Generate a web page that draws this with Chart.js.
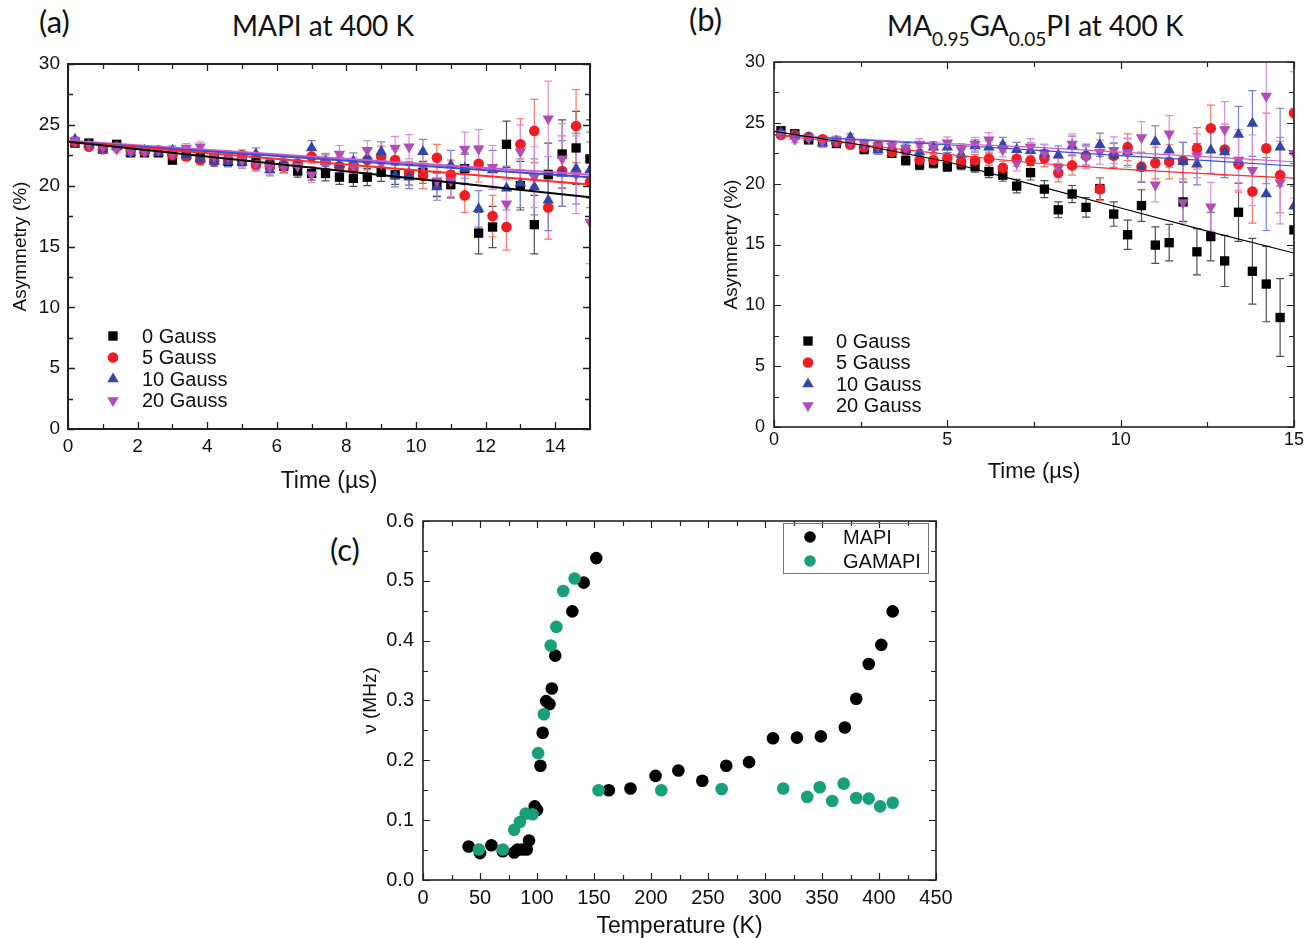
<!DOCTYPE html>
<html><head><meta charset="utf-8">
<script src="https://cdn.jsdelivr.net/npm/chart.js"></script>
<style>
html,body{margin:0;padding:0;background:#fff;width:1306px;height:938px;overflow:hidden;position:relative}
canvas{position:absolute}
.lbl{position:absolute;font-family:Lato,'Open Sans',sans-serif;color:#111;white-space:nowrap;line-height:1}
.sub{font-size:19px;position:relative;top:10px}
</style></head><body>
<div class="lbl" style="left:39px;top:6px;font-size:31px">(a)</div>
<div class="lbl" style="left:323px;top:11px;font-size:28px;transform:translateX(-50%)">MAPI at 400 K</div>
<div class="lbl" style="left:689px;top:4px;font-size:31px">(b)</div>
<div class="lbl" style="left:887px;top:11px;font-size:28px">MA<span class="sub">0.95</span>GA<span class="sub">0.05</span>PI at 400 K</div>
<div class="lbl" style="left:330px;top:534px;font-size:31px">(c)</div>
<canvas id="ca" width="650" height="500" style="left:0;top:0"></canvas>
<canvas id="cb" width="656" height="500" style="left:650px;top:0"></canvas>
<canvas id="cc" width="680" height="438" style="left:300px;top:500px"></canvas>
<script>
// ---------------- DATA ----------------
const TIME = [0.2,0.6,1.0,1.4,1.8,2.2,2.6,3.0,3.4,3.8,4.2,4.6,5.0,5.4,5.8,6.2,6.6,7.0,7.4,7.8,8.2,8.6,9.0,9.4,9.8,10.2,10.6,11.0,11.4,11.8,12.2,12.6,13.0,13.4,13.8,14.2,14.6,15.0];
const GAUSS_LABELS = ['0 Gauss','5 Gauss','10 Gauss','20 Gauss'];

// panel (a) MAPI at 400 K, asymmetry (%)
const A_0G  = [23.5,23.5,23.0,23.4,22.7,22.7,22.7,22.1,22.5,22.3,22.2,22.0,22.0,21.9,21.7,21.6,21.2,21.0,21.0,20.7,20.6,20.7,21.1,20.9,20.9,21.1,20.1,20.1,21.4,16.1,16.6,23.4,20.0,16.8,20.9,22.6,23.1,22.2];
const A_5G  = [23.6,23.2,23.0,23.2,22.9,22.8,22.9,22.5,22.4,22.1,22.0,22.1,22.5,21.7,21.6,21.6,21.8,22.4,22.0,21.6,21.4,22.1,22.4,22.1,21.0,20.8,22.3,20.9,19.2,21.8,17.5,16.6,23.4,24.5,18.2,21.2,24.9,20.3];
const A_10G = [23.8,23.4,23.0,23.2,22.7,22.9,22.7,22.9,22.5,22.2,22.0,22.0,21.9,22.6,21.3,21.8,21.7,23.1,22.0,21.7,22.0,22.3,22.8,20.8,20.7,22.8,19.9,21.7,21.4,18.1,21.3,19.8,20.2,19.9,18.8,21.0,21.4,21.3];
const A_20G = [23.7,23.4,23.2,23.0,22.8,22.8,22.9,22.6,23.1,23.2,22.4,22.4,22.1,21.8,21.5,21.6,21.6,20.9,21.8,22.6,21.6,22.9,21.8,23.1,23.2,21.6,20.4,20.4,23.0,23.0,21.5,18.5,22.8,20.7,25.5,22.2,20.9,17.0];
const A_ERR_0G  = [0.2,0.2,0.2,0.25,0.25,0.25,0.3,0.3,0.3,0.35,0.35,0.4,0.4,0.45,0.45,0.5,0.5,0.55,0.6,0.6,0.65,0.7,0.75,0.8,0.85,0.9,1.0,1.1,1.2,1.7,1.7,1.9,2.0,2.4,2.6,2.8,3.0,3.2];
const A_ERR_5G  = [0.2,0.2,0.25,0.25,0.3,0.3,0.3,0.35,0.35,0.4,0.4,0.45,0.45,0.5,0.5,0.55,0.6,0.6,0.65,0.7,0.75,0.8,0.85,0.9,1.0,1.05,1.1,1.2,1.4,1.5,1.7,1.9,2.1,2.6,2.6,2.9,3.0,3.3];
const A_ERR_10G = [0.2,0.2,0.25,0.25,0.3,0.3,0.3,0.35,0.35,0.4,0.4,0.45,0.45,0.5,0.5,0.55,0.6,0.6,0.6,0.65,0.7,0.75,0.8,0.9,0.95,1.0,1.1,1.2,1.3,1.5,1.6,1.8,2.0,2.3,2.5,2.7,2.9,3.1];
const A_ERR_20G = [0.2,0.2,0.25,0.25,0.3,0.3,0.3,0.35,0.35,0.4,0.45,0.45,0.5,0.5,0.55,0.6,0.6,0.65,0.7,0.7,0.75,0.8,0.85,0.95,1.0,1.1,1.2,1.3,1.4,1.6,1.8,2.0,2.2,2.5,3.1,2.9,3.2,3.4];
const A_FIT_T   = [0, 15];
const A_FIT_0G  = [23.6, 19.05];
const A_FIT_5G  = [23.6, 20.1];
const A_FIT_10G = [23.6, 20.7];
const A_FIT_20G = [23.7, 20.9];

// panel (b) MA0.95GA0.05PI at 400 K
const B_0G  = [24.35,24.1,23.6,23.5,23.3,23.4,22.8,23.0,22.5,21.9,21.55,21.7,21.4,21.6,21.4,21.0,20.7,19.8,20.9,19.55,17.85,19.15,18.05,19.6,17.5,15.8,18.2,14.95,15.15,18.5,14.4,15.65,13.65,17.65,12.8,11.75,9.0,16.2];
const B_5G  = [24.0,24.0,23.85,23.65,23.4,23.2,23.0,23.1,22.6,22.7,21.95,21.95,22.1,21.8,21.9,22.05,21.3,22.05,21.9,22.1,20.9,21.5,22.3,19.55,22.3,23.0,21.4,21.7,21.8,21.9,22.9,24.55,22.8,21.6,19.35,22.9,20.7,25.8];
const B_10G = [24.2,23.9,23.75,23.3,23.5,23.8,23.2,22.75,23.0,22.8,22.6,23.0,23.0,22.4,23.1,23.0,23.2,22.8,22.7,22.5,22.35,23.1,22.4,23.2,22.35,22.6,21.3,23.45,22.75,21.8,21.6,22.75,22.6,24.05,24.95,19.15,23.0,18.15];
const B_20G = [24.1,23.65,23.75,23.5,23.6,23.4,23.3,23.1,23.1,22.9,23.25,22.95,23.35,22.8,23.25,23.6,22.8,21.7,23.0,22.5,21.3,23.25,22.15,22.6,22.75,22.55,23.8,19.9,24.1,18.45,22.3,18.1,24.45,21.95,21.1,27.2,20.1,22.5];
const B_ERR_0G  = [0.25,0.25,0.25,0.3,0.3,0.3,0.3,0.35,0.35,0.35,0.4,0.4,0.4,0.45,0.45,0.5,0.5,0.55,0.6,0.7,0.65,0.7,0.8,0.9,1.0,1.2,1.3,1.5,1.5,1.6,1.9,2.0,2.1,2.4,2.7,3.1,3.2,3.6];
const B_ERR_5G  = [0.25,0.25,0.25,0.3,0.3,0.3,0.35,0.35,0.35,0.4,0.4,0.45,0.45,0.5,0.5,0.55,0.55,0.6,0.65,0.7,0.75,0.8,0.85,0.95,1.0,1.1,1.2,1.3,1.4,1.5,1.7,1.9,2.1,2.3,2.6,2.9,3.1,3.4];
const B_ERR_10G = [0.25,0.25,0.25,0.3,0.3,0.3,0.35,0.35,0.35,0.4,0.4,0.45,0.45,0.5,0.5,0.55,0.6,0.6,0.65,0.7,0.75,0.8,0.85,0.95,1.0,1.1,1.2,1.3,1.4,1.6,1.7,1.9,2.1,2.3,2.7,3.0,3.2,3.5];
const B_ERR_20G = [0.25,0.25,0.3,0.3,0.3,0.35,0.35,0.35,0.4,0.4,0.45,0.45,0.5,0.5,0.55,0.6,0.6,0.65,0.7,0.75,0.8,0.85,0.9,1.0,1.1,1.2,1.3,1.4,1.5,1.7,1.8,2.0,2.3,2.5,2.9,4.0,3.4,3.7];
const B_FIT_T   = [0, 2.5, 5, 7.5, 10, 12.5, 15];
const B_FIT_0G  = [24.3, 23.2, 21.8, 19.9, 18.0, 16.1, 14.3];
const B_FIT_5G  = [24.0, 23.2, 22.4, 21.7, 21.2, 20.8, 20.45];
const B_FIT_10G = [24.0, 23.6, 23.2, 22.75, 22.3, 21.9, 21.45];
const B_FIT_20G = [24.0, 23.65, 23.3, 23.0, 22.6, 22.2, 21.8];

// panel (c) precession frequency vs temperature
const C_LABELS = ['MAPI', 'GAMAPI'];
const C_MAPI_T  = [40,50,60,70,80,83,87,91,93,98,100,103,105,108,111,113,116,131,141,152,163,182,204,224,245,266,286,307,328,349,370,380,391,402,412];
const C_MAPI_NU = [0.056,0.045,0.058,0.048,0.046,0.051,0.051,0.051,0.066,0.123,0.117,0.191,0.246,0.299,0.294,0.320,0.375,0.449,0.497,0.538,0.150,0.153,0.174,0.183,0.166,0.191,0.197,0.237,0.238,0.240,0.255,0.303,0.361,0.393,0.449];
const C_GA_T  = [49,70,80,85,90,96,101,106,112,117,123,133,154,209,262,316,337,348,359,369,380,391,401,412];
const C_GA_NU = [0.051,0.051,0.084,0.097,0.111,0.110,0.212,0.277,0.392,0.423,0.483,0.504,0.150,0.150,0.152,0.153,0.139,0.155,0.132,0.161,0.137,0.136,0.123,0.129];

// ---------------- STYLE ----------------
const FONT = "'Liberation Sans', Arial, sans-serif";
const STYLES = [
  {shape:'rect',     rot:0,   r:6.6, color:'#000000', err:'#505050', fit:'#000000'},
  {shape:'circle',   rot:0,   r:5.3, color:'#ee1d23', err:'#f47a66', fit:'#ff2a2a'},
  {shape:'triangle', rot:0,   r:6.6, color:'#3346a6', err:'#7885d4', fit:'#3a4fd0'},
  {shape:'triangle', rot:180, r:6.6, color:'#b24db4', err:'#dc8edc', fit:'#cc5acc'}
];

function drawMarker(ctx, shape, x, y, r, rot) {
  ctx.beginPath();
  if (shape === 'rect') { const s = r * Math.SQRT1_2; ctx.rect(x - s, y - s, 2 * s, 2 * s); }
  else if (shape === 'circle') { ctx.arc(x, y, r, 0, Math.PI * 2); }
  else { const d = rot ? -1 : 1; ctx.moveTo(x, y - d * r); ctx.lineTo(x + r * 0.866, y + d * r * 0.5); ctx.lineTo(x - r * 0.866, y + d * r * 0.5); ctx.closePath(); }
  ctx.fill();
}

const errorBars = {
  id: 'errorBars',
  beforeDatasetsDraw(chart) {
    const {ctx, chartArea: a} = chart; const ys = chart.scales.y;
    ctx.save(); ctx.beginPath(); ctx.rect(a.left, a.top, a.width, a.height); ctx.clip();
    chart.data.datasets.forEach((ds, di) => {
      if (!ds.errors) return;
      const meta = chart.getDatasetMeta(di);
      ctx.strokeStyle = ds.errColor; ctx.lineWidth = 1.2;
      meta.data.forEach((pt, i) => {
        const v = ds.data[i].y, e = ds.errors[i];
        const y1 = ys.getPixelForValue(v + e), y2 = ys.getPixelForValue(v - e), x = pt.x;
        ctx.beginPath();
        ctx.moveTo(x, y1); ctx.lineTo(x, y2);
        ctx.moveTo(x - 4, y1); ctx.lineTo(x + 4, y1);
        ctx.moveTo(x - 4, y2); ctx.lineTo(x + 4, y2);
        ctx.stroke();
      });
    });
    ctx.restore();
  }
};

const frameTicks = {
  id: 'frameTicks',
  afterDatasetsDraw(chart, args, o) {
    const {ctx, chartArea: a, scales: {x, y}} = chart;
    ctx.save(); ctx.strokeStyle = o.color; ctx.lineWidth = o.tickWidth;
    ctx.beginPath();
    const isMajor = (v, step) => Math.abs(v / step - Math.round(v / step)) < 1e-6;
    let n = Math.round((x.max - x.min) / o.xMinor);
    for (let k = 0; k <= n; k++) {
      const v = x.min + k * o.xMinor; const px = Math.round(x.getPixelForValue(v)) + 0.5;
      const L = isMajor(v, o.xMajor) ? o.major : o.minor;
      ctx.moveTo(px, a.bottom); ctx.lineTo(px, a.bottom - L);
      ctx.moveTo(px, a.top); ctx.lineTo(px, a.top + L);
    }
    n = Math.round((y.max - y.min) / o.yMinor);
    for (let k = 0; k <= n; k++) {
      const v = y.min + k * o.yMinor; const py = Math.round(y.getPixelForValue(v)) + 0.5;
      const L = isMajor(v, o.yMajor) ? o.major : o.minor;
      ctx.moveTo(a.left, py); ctx.lineTo(a.left + L, py);
      ctx.moveTo(a.right, py); ctx.lineTo(a.right - L, py);
    }
    ctx.stroke();
    ctx.lineWidth = o.frameWidth;
    ctx.strokeRect(a.left, a.top, a.width, a.height);
    ctx.restore();
  }
};

const markerLegend = {
  id: 'markerLegend',
  afterDraw(chart, args, o) {
    if (!o || o.x === undefined) return;
    const ctx = chart.ctx;
    ctx.save();
    if (o.box) {
      ctx.strokeStyle = o.box.color; ctx.lineWidth = 1;
      ctx.strokeRect(o.box.x + 0.5, o.box.y + 0.5, o.box.w, o.box.h);
    }
    ctx.font = o.fontSize + 'px ' + FONT; ctx.textBaseline = 'middle'; ctx.textAlign = 'left';
    let row = 0;
    chart.data.datasets.forEach(ds => {
      if (!ds.inLegend) return;
      const yy = o.y + row * o.rowH;
      ctx.fillStyle = ds.backgroundColor;
      drawMarker(ctx, ds.pointStyle, o.x, yy, ds.legendR || ds.pointRadius, ds.pointRotation);
      ctx.fillStyle = '#111';
      ctx.fillText(ds.label, o.textX, yy + 1);
      row++;
    });
    ctx.restore();
  }
};

function markerSets(series, errs) {
  return series.map((vals, k) => ({
    label: GAUSS_LABELS[k],
    data: TIME.map((t, i) => ({x: t, y: vals[i]})),
    errors: errs[k], errColor: STYLES[k].err,
    pointStyle: STYLES[k].shape, pointRotation: STYLES[k].rot, pointRadius: STYLES[k].r,
    backgroundColor: STYLES[k].color, borderColor: STYLES[k].color, pointBorderWidth: 0,
    showLine: false, order: 7 - k, inLegend: true
  }));
}
function fitSets(ts, fits, w) {
  return fits.map((vals, k) => ({
    label: 'fit ' + GAUSS_LABELS[k],
    data: ts.map((t, i) => ({x: t, y: vals[i]})),
    showLine: true, pointRadius: 0, borderColor: STYLES[k].fit, borderWidth: w,
    tension: 0, fill: false, order: k
  }));
}

function axes(o) {
  return {
    x: {type: 'linear', min: o.xmin, max: o.xmax,
        grid: {display: false, drawTicks: false}, border: {display: false},
        ticks: {stepSize: o.xstep, includeBounds: false, padding: o.xpad, color: '#111', maxRotation: 0, autoSkip: false,
                font: {family: FONT, size: o.tickSize}, callback: o.xcb},
        title: {display: true, text: o.xtitle, color: '#111', font: {family: FONT, size: o.xtSize, lineHeight: o.xtLH || 1.2},
                padding: {top: 0, bottom: o.xtPad}},
        afterFit(s) { s.height = o.xh; }},
    y: {type: 'linear', min: o.ymin, max: o.ymax,
        grid: {display: false, drawTicks: false}, border: {display: false},
        ticks: {stepSize: o.ystep, includeBounds: false, padding: o.ypad, color: '#111', autoSkip: false,
                font: {family: FONT, size: o.tickSize}, callback: o.ycb},
        title: {display: true, text: o.ytitle, color: '#111', font: {family: FONT, size: o.ytSize},
                padding: {top: o.ytPad, bottom: 0}},
        afterFit(s) { s.width = o.yw; }}
  };
}

const common = {responsive: false, animation: false, devicePixelRatio: 1,
  plugins: {legend: {display: false}, tooltip: {enabled: false}}};

// ---------- panel (a) ----------
new Chart(document.getElementById('ca'), {
  type: 'scatter',
  data: {datasets: [
    ...markerSets([A_0G, A_5G, A_10G, A_20G], [A_ERR_0G, A_ERR_5G, A_ERR_10G, A_ERR_20G]),
    ...fitSets(A_FIT_T, [A_FIT_0G, A_FIT_5G, A_FIT_10G, A_FIT_20G], 2)
  ]},
  options: {...common,
    layout: {autoPadding: false, padding: {left: 0, top: 64, right: 60, bottom: 6}},
    scales: axes({xmin: 0, xmax: 15, xstep: 2, xpad: 6, tickSize: 19, xtitle: 'Time (\u00b5s)', xtSize: 23, xtLH: 1.0, xtPad: 1, xh: 65,
                  ymin: 0, ymax: 30, ystep: 5, ypad: 8, ytitle: 'Asymmetry (%)', ytSize: 19, ytPad: 9, yw: 68}),
    plugins: {...common.plugins,
      frameTicks: {color: '#222', tickWidth: 1.3, frameWidth: 2, major: 7, minor: 5, xMajor: 2, xMinor: 1, yMajor: 5, yMinor: 2.5},
      markerLegend: {x: 113, y: 336, rowH: 21.5, textX: 142, fontSize: 20}}
  },
  plugins: [errorBars, frameTicks, markerLegend]
});

// ---------- panel (b) ----------
new Chart(document.getElementById('cb'), {
  type: 'scatter',
  data: {datasets: [
    ...markerSets([B_0G, B_5G, B_10G, B_20G], [B_ERR_0G, B_ERR_5G, B_ERR_10G, B_ERR_20G]),
    ...fitSets(B_FIT_T, [B_FIT_0G, B_FIT_5G, B_FIT_10G, B_FIT_20G], 1.2)
  ]},
  options: {...common,
    layout: {autoPadding: false, padding: {left: 60, top: 62, right: 10, bottom: 13}},
    scales: axes({xmin: 0, xmax: 15, xstep: 5, xpad: 2, tickSize: 18, xtitle: 'Time (\u00b5s)', xtSize: 22, xtLH: 1.0, xtPad: 4, xh: 60,
                  ymin: 0, ymax: 30, ystep: 5, ypad: 9, ytitle: 'Asymmetry (%)', ytSize: 19, ytPad: 10, yw: 64}),
    plugins: {...common.plugins,
      frameTicks: {color: '#222', tickWidth: 1.2, frameWidth: 1.6, major: 7, minor: 5, xMajor: 5, xMinor: 2.5, yMajor: 5, yMinor: 2.5},
      markerLegend: {x: 158, y: 341, rowH: 21.5, textX: 186, fontSize: 20}}
  },
  plugins: [errorBars, frameTicks, markerLegend]
});

// ---------- panel (c) ----------
new Chart(document.getElementById('cc'), {
  type: 'scatter',
  data: {datasets: [
    {label: C_LABELS[0], data: C_MAPI_T.map((t, i) => ({x: t, y: C_MAPI_NU[i]})), pointStyle: 'circle', pointRadius: 6.3,
     backgroundColor: '#000000', borderColor: '#000000', pointBorderWidth: 0, inLegend: true, legendR: 5.8, order: 1},
    {label: C_LABELS[1], data: C_GA_T.map((t, i) => ({x: t, y: C_GA_NU[i]})), pointStyle: 'circle', pointRadius: 6.3,
     backgroundColor: '#17a07a', borderColor: '#17a07a', pointBorderWidth: 0, inLegend: true, legendR: 5.8, order: 0}
  ]},
  options: {...common,
    layout: {autoPadding: false, padding: {left: 50, top: 17, right: 44, bottom: 0}},
    scales: axes({xmin: 0, xmax: 450, xstep: 50, xpad: 6, tickSize: 20, xtitle: 'Temperature (K)', xtSize: 23, xtLH: 1.0, xtPad: 0, xh: 58,
                  ymin: 0, ymax: 0.6, ystep: 0.1, ypad: 9, ytitle: '\u03bd (MHz)', ytSize: 19, ytPad: 9, yw: 73,
                  ycb: v => v.toFixed(1)}),
    plugins: {...common.plugins,
      frameTicks: {color: '#222', tickWidth: 1.2, frameWidth: 1.6, major: 7, minor: 5, xMajor: 50, xMinor: 25, yMajor: 0.1, yMinor: 0.05},
      markerLegend: {x: 510, y: 37, rowH: 24, textX: 543, fontSize: 20, box: {x: 483, y: 23, w: 145, h: 50, color: '#777'}}}
  },
  plugins: [frameTicks, markerLegend]
});
</script>
</body></html>
